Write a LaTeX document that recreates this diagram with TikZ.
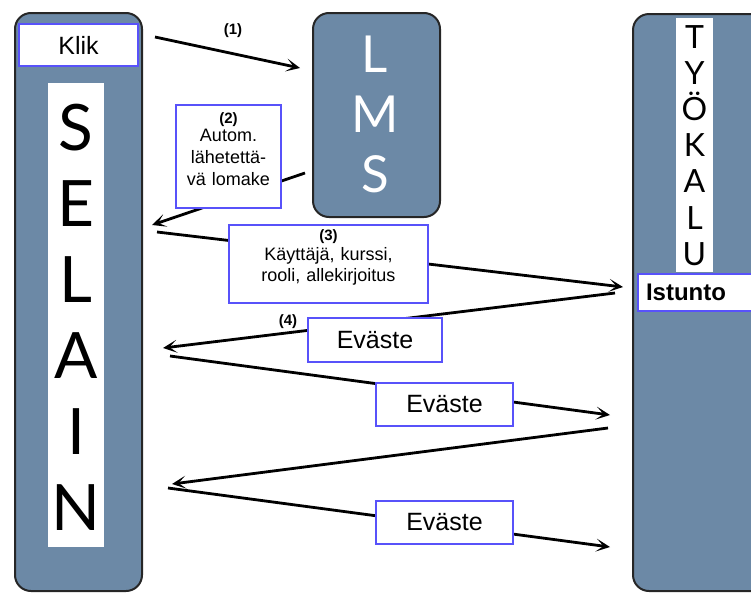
\documentclass[tikz,border=0pt]{standalone}
\usepackage{fontspec}
\setmainfont{Liberation Sans}
\newfontfamily\pillarfont{Lato}
\usetikzlibrary{arrows.meta}
\definecolor{pillarblue}{RGB}{108,137,166}
\definecolor{boxblue}{RGB}{88,82,250}
\begin{document}
\begin{tikzpicture}[x=1pt,y=-1pt,
  pillar/.style={draw=black!85, line width=2pt, fill=pillarblue,
    rounded corners=16pt, anchor=north west, inner sep=0pt},
  strip/.style={fill=white, anchor=north west, inner sep=0pt},
  msgbox/.style={draw=boxblue, line width=2pt, fill=white, anchor=north west,
    inner sep=0pt, align=center},
  bigletter/.style={font=\pillarfont\fontsize{64}{64}\selectfont, anchor=base, inner sep=0pt},
  midletter/.style={font=\pillarfont\fontsize{51}{51}\selectfont, text=white, anchor=base, inner sep=0pt},
  smallletter/.style={font=\pillarfont\fontsize{32}{32}\selectfont, anchor=base, inner sep=0pt},
  step label/.style={font=\bfseries\fontsize{15}{17}\selectfont},
  flow/.style={line width=2.8pt, -{Stealth[length=14pt,width=13pt,inset=7.5pt]}},
]
\useasboundingbox (0,0) rectangle (751,592);
\clip (0,0) rectangle (751,592);

% --- the three columns ---
\node[pillar, minimum width=127pt, minimum height=578pt] (selain) at (14,12) {};
\node[pillar, minimum width=127pt, minimum height=204pt] (lms) at (312,12) {};
\node[pillar, minimum width=140pt, minimum height=577pt] (tyokalu) at (632,13) {};

% browser column: header box and vertical word
\node[msgbox, minimum width=119pt, minimum height=42pt,
      font=\fontsize{25}{25}\selectfont] (klik) at (18,23) {Klik};
\node[strip, minimum width=56pt, minimum height=464pt] (selainstrip) at (48,83) {};
\foreach \ch [count=\i from 0] in {S,E,L,A,I,N}
  \node[bigletter] (selain-\i) at (76,150+76*\i) {\ch};

% LMS column
\foreach \ch [count=\i from 0] in {L,M,S}
  \node[midletter] (lms-\i) at (375,72+60*\i) {\ch};

% tool column: vertical word and session box
\node[strip, minimum width=37pt, minimum height=254pt] (tyokalustrip) at (676,18) {};
\foreach \ch [count=\i from 0] in {T,Y,Ö,K,A,L,U}
  \node[smallletter] (tyokalu-\i) at (694.5,48+36.2*\i) {\ch};
\node[msgbox, text width=125pt, minimum height=37pt, align=left,
      font=\bfseries\fontsize{24}{24}\selectfont] (istunto) at (637,273)
      {\hspace*{8pt}Istunto};

% --- message end points ---
\coordinate (p1a) at (155,37);   \coordinate (p1b) at (300,68);
\coordinate (p2a) at (305,173);  \coordinate (p2b) at (152,225);
\coordinate (p3a) at (157,232);  \coordinate (p3b) at (623,287);
\coordinate (p4a) at (615,293);  \coordinate (p4b) at (163,348);
\coordinate (p5a) at (170,356);  \coordinate (p5b) at (610,415);
\coordinate (p6a) at (608,428);  \coordinate (p6b) at (172,484);
\coordinate (p7a) at (168,488);  \coordinate (p7b) at (610,547);

\draw[flow] (p1a) -- (p1b);
\draw[flow] (p2a) -- (p2b);
\draw[flow] (p3a) -- (p3b);
\draw[flow] (p4a) -- (p4b);
\draw[flow] (p5a) -- (p5b);
\draw[flow] (p6a) -- (p6b);
\draw[flow] (p7a) -- (p7b);

% --- message labels ---
\node[step label] (lbl1) at (233,31) {(1)};
\node[msgbox, text width=105pt, text height=18pt, text depth=85pt,
      font=\fontsize{18}{22}\selectfont] (form) at (175,104)
      {{\bfseries\fontsize{15}{17}\selectfont (2)}\\[-4pt]Autom.\\lähetettä-\\vä lomake};
\node[msgbox, text width=199pt, text height=15pt, text depth=63pt,
      font=\fontsize{18}{21}\selectfont] (params) at (228,224)
      {{\bfseries\fontsize{15}{17}\selectfont (3)}\\[-1pt]Käyttäjä, kurssi,\\rooli, allekirjoitus};
\node[step label] (lbl4) at (288,322) {(4)};
\node[msgbox, minimum width=134pt, minimum height=44pt,
      font=\fontsize{25}{25}\selectfont] (cookie1) at (307,317) {Eväste};
\node[msgbox, minimum width=137pt, minimum height=43pt,
      font=\fontsize{25}{25}\selectfont] (cookie2) at (375,382) {Eväste};
\node[msgbox, minimum width=137pt, minimum height=43pt,
      font=\fontsize{25}{25}\selectfont] (cookie3) at (375,500) {Eväste};
\end{tikzpicture}
\end{document}
